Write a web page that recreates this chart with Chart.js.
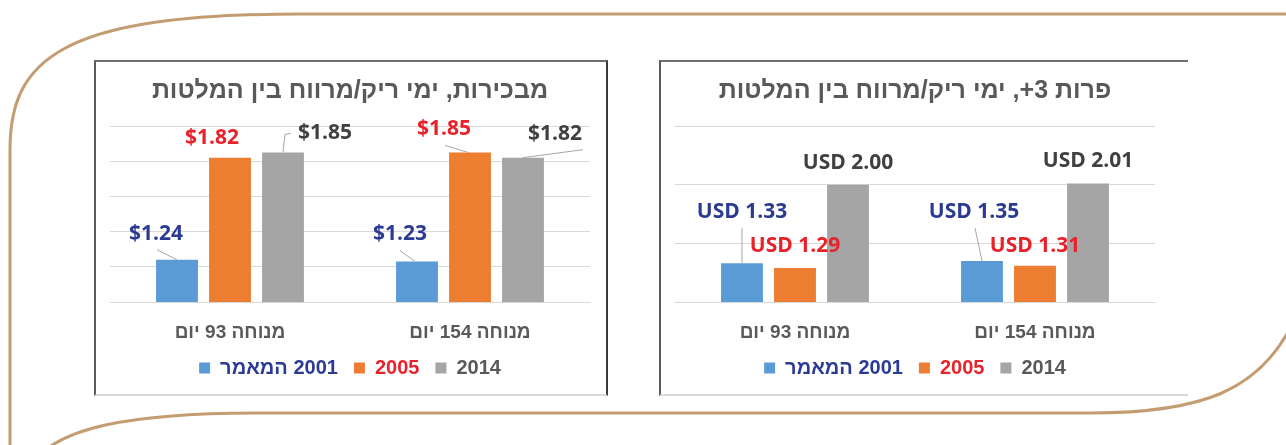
<!DOCTYPE html>
<html lang="he">
<head>
<meta charset="utf-8">
<title>ימי ריק/מרווח בין המלטות</title>
<script src="https://cdn.jsdelivr.net/npm/chart.js@4.4.1/dist/chart.umd.min.js"></script>
<style>
  body { margin: 0; width: 1286px; height: 445px; background: #fff; position: relative; overflow: hidden; }
  #frame { position: absolute; left: 0; top: 0; }
  .box { position: absolute; top: 60px; height: 336px; background: #fff; }
  .box canvas { position: absolute; left: 0; top: 0; direction: rtl; }
  .edge { position: absolute; left: 0; top: 0; right: 0; bottom: 0; box-sizing: border-box; pointer-events: none;
          border-top: 2px solid #6e6e6e; border-left: 2px solid #5a5a5a; border-bottom: 2px solid #dadada; }
  #boxL { left: 94px; width: 514px; }
  #boxL .edge { border-right: 2px solid #3c3c3c; }
  #boxR { left: 659px; width: 529px; }
</style>
</head>
<body>
<svg id="frame" width="1286" height="445">
  <path d="M1290 14 H300 C60 14 10 60 10 150 V450" fill="none" stroke="#c49c72" stroke-width="3"/>
  <path d="M1295 318 C1262 392 1200 413 1090 413 H260 C120 413 60 430 35 460" fill="none" stroke="#c49c72" stroke-width="3"/>
</svg>
<div class="box" id="boxL"><canvas id="heifers" width="514" height="336"></canvas><div class="edge"></div></div>
<div class="box" id="boxR"><canvas id="cows" width="529" height="336"></canvas><div class="edge"></div></div>
<script>
// data
const categories = ['מנוחה 93 יום', 'מנוחה 154 יום'];
const seriesNames = ['2001 המאמר', '2005', '2014'];

const heifers2001 = [1.24, 1.23];
const heifers2005 = [1.82, 1.85];
const heifers2014 = [1.85, 1.82];
const heifersTicks = [1.0, 1.2, 1.4, 1.6, 1.8, 2.0];

const cows2001 = [1.33, 1.35];
const cows2005 = [1.29, 1.31];
const cows2014 = [2.00, 2.01];
const cowsTicks = [1.0, 1.5, 2.0, 2.5];

const barColors = ['#5b9bd5', '#ed7d31', '#a5a5a5'];
const textColors = ['#2b3b93', '#e8222b', '#404040'];
const legendColors = ['#2b3b93', '#e8222b', '#595959'];

// where each value label sits relative to the top of its bar, plus its leader line
const heifersLabelPos = [
  [{dx: -21, dy: -26, line: [[-20, -10], [0, 0]]}, {dx: -17, dy: -28, line: [[-17, -11], [-2, 0]]}],
  [{dx: -18, dy: -20}, {dx: -26, dy: -23, line: [[-25, -7], [-2, 0]]}],
  [{dx: 42, dy: -19, line: [[0, 0], [2, -18], [8, -19]]}, {dx: 32, dy: -24, line: [[0, 0], [60, -8]]}]
];
const cowsLabelPos = [
  [{dx: 0, dy: -51, line: [[0, -35], [0, 0]]}, {dx: -8, dy: -49, line: [[-7, -33], [0, 0]]}],
  [{dx: 0, dy: -22}, {dx: 0, dy: -20}],
  [{dx: 0, dy: -22}, {dx: 0, dy: -22}]
];

const hebFont = '"Liberation Sans", Arial, sans-serif';

function makeLabels(pos, prefix) {
  return {
    id: 'barLabels',
    afterDatasetsDraw(chart) {
      const ctx = chart.ctx;
      ctx.save();
      ctx.direction = 'ltr';
      ctx.font = '700 21px "Open Sans", sans-serif';
      ctx.textAlign = 'center';
      ctx.textBaseline = 'middle';
      chart.data.datasets.forEach((ds, i) => {
        chart.getDatasetMeta(i).data.forEach((bar, j) => {
          const p = pos[i][j];
          if (p.line) {
            ctx.strokeStyle = '#a6a6a6';
            ctx.lineWidth = 1;
            ctx.beginPath();
            p.line.forEach(([x, y], k) => k ? ctx.lineTo(bar.x + x, bar.y + y) : ctx.moveTo(bar.x + x, bar.y + y));
            ctx.stroke();
          }
          ctx.fillStyle = textColors[i];
          ctx.fillText(prefix + ds.data[j].toFixed(2), bar.x + p.dx, bar.y + p.dy);
        });
      });
      ctx.restore();
    }
  };
}

function makeChart(id, title, values, ticks, pos, prefix, rightPad) {
  return new Chart(document.getElementById(id), {
    type: 'bar',
    data: {
      labels: categories,
      datasets: values.map((v, i) => ({
        label: seriesNames[i],
        data: v,
        backgroundColor: barColors[i],
        categoryPercentage: 0.6625,
        barPercentage: 0.79
      }))
    },
    options: {
      responsive: false,
      animation: false,
      events: [],
      layout: { padding: { left: 16, right: rightPad, top: 0, bottom: 8 } },
      scales: {
        x: {
          grid: { display: false, drawTicks: true, tickLength: 21 },
          border: { color: '#d9d9d9' },
          ticks: { color: '#595959', padding: 0, font: { family: hebFont, size: 19, weight: 'bold', lineHeight: 1 } }
        },
        y: {
          min: ticks[0],
          max: ticks[ticks.length - 1],
          afterBuildTicks: axis => { axis.ticks = ticks.map(v => ({ value: v })); },
          grid: { color: '#d9d9d9', drawTicks: false },
          border: { display: false },
          ticks: { display: false }
        }
      },
      plugins: {
        tooltip: { enabled: false },
        title: {
          display: true,
          text: title,
          color: '#595959',
          font: { family: hebFont, size: 25, weight: 'bold', lineHeight: 1.2 },
          padding: { top: 16, bottom: 20 }
        },
        legend: {
          position: 'bottom',
          textDirection: 'rtl',
          labels: {
            boxWidth: 11,
            boxHeight: 11,
            padding: 16,
            font: { family: hebFont, size: 20, weight: 'bold' },
            generateLabels: chart => chart.data.datasets.map((ds, i) => ({
              text: ds.label,
              fillStyle: ds.backgroundColor,
              strokeStyle: ds.backgroundColor,
              lineWidth: 0,
              fontColor: legendColors[i],
              hidden: false,
              datasetIndex: i
            }))
          }
        }
      }
    },
    plugins: [makeLabels(pos, prefix)]
  });
}

makeChart('heifers', 'מבכירות, ימי ריק/מרווח בין המלטות',
  [heifers2001, heifers2005, heifers2014], heifersTicks, heifersLabelPos, '$', 18);
makeChart('cows', 'פרות 3+, ימי ריק/מרווח בין המלטות',
  [cows2001, cows2005, cows2014], cowsTicks, cowsLabelPos, 'USD ', 33);
</script>
</body>
</html>
